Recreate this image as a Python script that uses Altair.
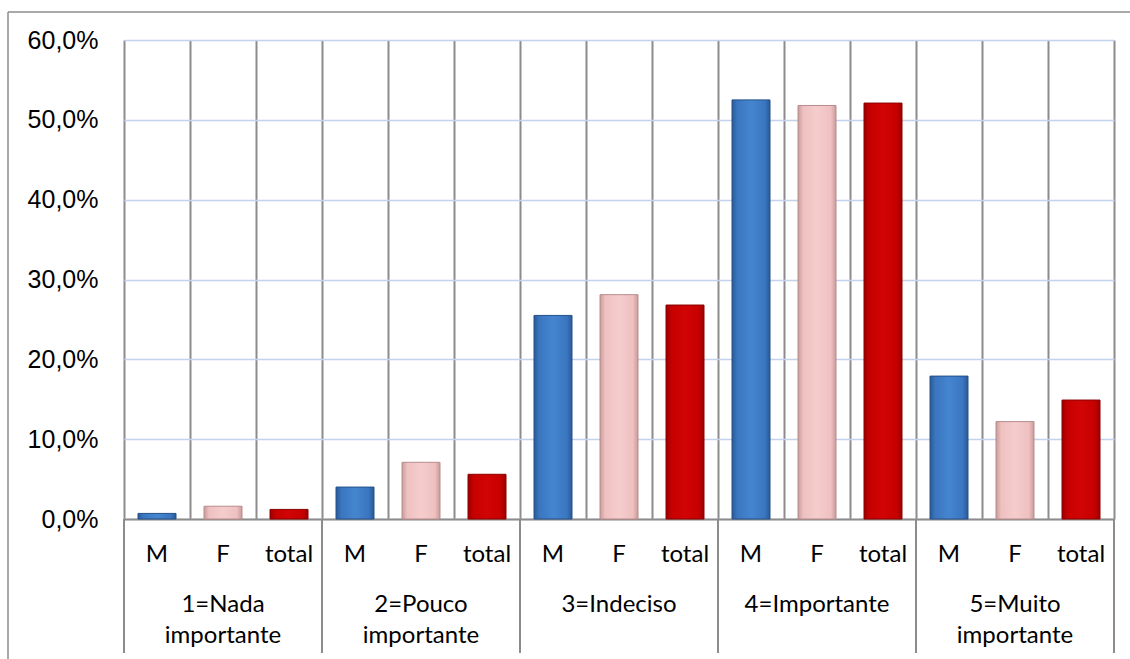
import altair as alt
import pandas as pd

groups = ["1=Nada importante", "2=Pouco importante", "3=Indeciso",
          "4=Importante", "5=Muito importante"]
group_labels = ["1=Nada\nimportante", "2=Pouco\nimportante", "3=Indeciso",
                "4=Importante", "5=Muito\nimportante"]
series = ["M", "F", "total"]
m_vals = [0.7, 4.0, 25.5, 52.5, 17.9]
f_vals = [1.6, 7.1, 28.1, 51.8, 12.2]
t_vals = [1.2, 5.6, 26.8, 52.1, 14.9]
y_ticks = [0.0, 0.1, 0.2, 0.3, 0.4, 0.5, 0.6]

rows = []
for gi, g in enumerate(groups):
    for s, vals in zip(series, [m_vals, f_vals, t_vals]):
        rows.append({"key": f"{gi}|{s}", "group": g, "series": s,
                     "value": vals[gi] / 100})
df = pd.DataFrame(rows)
keys = list(df["key"])

grp_df = pd.DataFrame({
    "key": [f"{gi}|F" for gi in range(len(groups))],
    "label": group_labels,
})
sep_df = pd.DataFrame({"key": [f"{gi}|M" for gi in range(len(groups))]})
end_df = pd.DataFrame({"key": [keys[-1]]})

xscale = alt.Scale(domain=keys, paddingInner=0, paddingOuter=0)
x_enc = alt.X("key:N", scale=xscale, sort=keys,
              axis=alt.Axis(labels=False, ticks=False, tickSize=0, title=None,
                            grid=True, gridColor="#8c8c8c", gridWidth=2,
                            tickBand="extent", domainColor="#8c8c8c",
                            domainWidth=2))
y_enc = alt.Y("value:Q", scale=alt.Scale(domain=[0, 0.6], nice=False),
              axis=alt.Axis(values=y_ticks, title=None, ticks=False, tickSize=0,
                            domain=False,
                            labelExpr="replace(format(datum.value, '.1%'), '.', ',')",
                            labelFont="Liberation Sans", labelFontSize=25,
                            labelColor="black", labelPadding=26,
                            gridColor="#c3d3ec", gridWidth=1.5))


def grad(dark, mid, light):
    return alt.Gradient(
        gradient="linear", x1=0, x2=1, y1=0, y2=0,
        stops=[alt.GradientStop(color=dark, offset=0),
               alt.GradientStop(color=mid, offset=0.14),
               alt.GradientStop(color=light, offset=0.5),
               alt.GradientStop(color=mid, offset=0.86),
               alt.GradientStop(color=dark, offset=1)])


fills = {
    "M": grad("#2a5a96", "#3b76c0", "#4585d0"),
    "F": grad("#c99c9c", "#efc1c1", "#f5cccc"),
    "total": grad("#9a0000", "#c60000", "#d20404"),
}
strokes = {"M": "#24508a", "F": "#b88c8c", "total": "#8a0000"}

layers = []
for s in series:
    layers.append(
        alt.Chart(df).transform_filter(alt.datum.series == s)
        .mark_bar(width=38, color=fills[s], stroke=strokes[s], strokeWidth=1)
        .encode(x=x_enc, y=y_enc)
    )

cat_text = alt.Chart(df).mark_text(
    baseline="alphabetic", font="Lato", fontSize=24, color="black"
).encode(x=alt.X("key:N", scale=xscale, sort=keys), y=alt.value(522),
         text="series:N")

grp_text = alt.Chart(grp_df).mark_text(
    baseline="alphabetic", font="Lato", fontSize=24, color="black",
    lineBreak="\n", lineHeight=31
).encode(x=alt.X("key:N", scale=xscale, sort=keys), y=alt.value(572),
         text="label:N")

sep_rules = alt.Chart(sep_df).mark_rule(color="#8c8c8c", strokeWidth=2).encode(
    x=alt.X("key:N", scale=xscale, sort=keys, bandPosition=0),
    y=alt.value(479), y2=alt.value(613))
end_rule = alt.Chart(end_df).mark_rule(color="#8c8c8c", strokeWidth=2).encode(
    x=alt.X("key:N", scale=xscale, sort=keys, bandPosition=1),
    y=alt.value(479), y2=alt.value(613))

one = pd.DataFrame({"a": [0]})
border_top = alt.Chart(one).mark_rule(color="#8c8c8c", strokeWidth=1.5).encode(
    x=alt.value(-116), x2=alt.value(1010), y=alt.value(-28))
border_left = alt.Chart(one).mark_rule(color="#8c8c8c", strokeWidth=1.5).encode(
    x=alt.value(-116), y=alt.value(-28), y2=alt.value(619))

chart = alt.layer(border_top, border_left, *layers, cat_text, grp_text,
                  sep_rules, end_rule).properties(
    width=990, height=479,
    padding={"left": 124, "top": 40, "right": 16, "bottom": 140},
    autosize=alt.AutoSizeParams(type="none"),
).configure_view(strokeWidth=0).configure(background="white")

chart.save("out.html", embed_options={"renderer": "svg", "actions": False})
